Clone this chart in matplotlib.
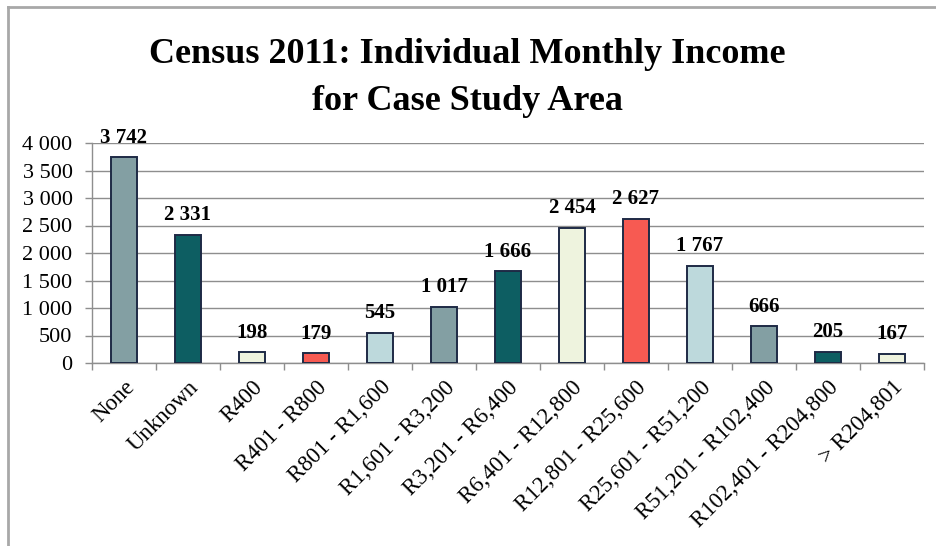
import matplotlib
matplotlib.use("Agg")
import matplotlib.pyplot as plt
from matplotlib.lines import Line2D
from matplotlib.ticker import FuncFormatter

categories = ["None", "Unknown", "R400", "R401 - R800", "R801 - R1,600",
              "R1,601 - R3,200", "R3,201 - R6,400", "R6,401 - R12,800",
              "R12,801 - R25,600", "R25,601 - R51,200", "R51,201 - R102,400",
              "R102,401 - R204,800", "> R204,801"]
values = [3742, 2331, 198, 179, 545, 1017, 1666, 2454, 2627, 1767, 666, 205, 167]
palette = ["#839FA3", "#0D5E62", "#EEF3DE", "#F75A52", "#BDD9DC"]
yticks = list(range(0, 4001, 500))
title_lines = ["Census 2011: Individual Monthly Income", "for Case Study Area"]

plt.rcParams['font.family'] = ['Liberation Serif', 'DejaVu Serif']

def fmt(v):
    return f"{int(v):,}".replace(",", " ")

fig = plt.figure(figsize=(9.37, 5.46), dpi=100)
ax = fig.add_axes([92/937, 1 - 363/546, (924 - 92)/937, (363 - 143)/546])

x = range(len(categories))
colors = [palette[i % len(palette)] for i in x]
ax.bar(x, values, width=0.4, color=colors, edgecolor="#1E2A45", linewidth=1.4, zorder=3)

for xi, v in zip(x, values):
    ax.annotate(fmt(v), (xi, v), xytext=(0, 10.5), textcoords="offset points",
                ha="center", va="baseline", fontsize=15, fontweight="bold", zorder=4)

ax.set_xlim(-0.5, len(categories) - 0.5)
ax.set_ylim(0, 4000)
ax.set_yticks(yticks)
ax.yaxis.set_major_formatter(FuncFormatter(lambda v, p: fmt(v)))
ax.grid(axis="y", color="#8E8E8E", linewidth=1, zorder=0)

ax.set_xticks(list(x))
ax.set_xticklabels(categories, rotation=45, ha="right", rotation_mode="anchor", fontsize=16.5)
ax.set_xticks([i - 0.5 for i in range(len(categories) + 1)], minor=True)
ax.tick_params(axis="x", which="major", length=0, pad=10)
ax.tick_params(axis="x", which="minor", length=5, color="#8E8E8E", width=1)
ax.tick_params(axis="y", length=5, color="#8E8E8E", width=1, labelsize=16, pad=9)

for s in ["top", "right"]:
    ax.spines[s].set_visible(False)
for s in ["left", "bottom"]:
    ax.spines[s].set_color("#8E8E8E")
    ax.spines[s].set_linewidth(1)

fig.text(0.499, 1 - 63/546, title_lines[0], ha="center", va="baseline",
         fontsize=26, fontweight="bold")
fig.text(0.499, 1 - 110/546, title_lines[1], ha="center", va="baseline",
         fontsize=26, fontweight="bold")

# outer frame (left and top edges only)
fig.add_artist(Line2D([8/937, 8/937], [0, 1 - 7/546], color="#A8A8A8", linewidth=2))
fig.add_artist(Line2D([8/937, 1], [1 - 7/546, 1 - 7/546], color="#A8A8A8", linewidth=2))

fig.savefig("out.png", dpi=100)
